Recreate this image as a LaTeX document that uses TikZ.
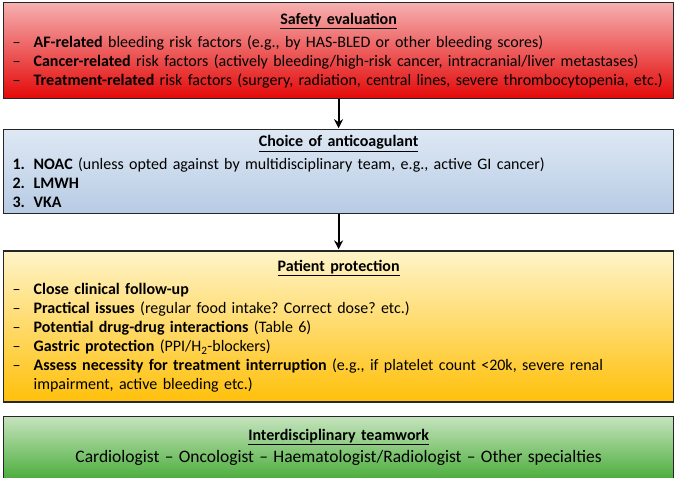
\documentclass[tikz,border=0pt]{standalone}
\usepackage{fontspec}
\setmainfont{Carlito}
\usetikzlibrary{positioning, arrows.meta}
\definecolor{safetytop}{RGB}{246,176,176}
\definecolor{safetybot}{RGB}{228,8,8}
\definecolor{choicetop}{RGB}{222,232,244}
\definecolor{choicebot}{RGB}{183,203,228}
\definecolor{protecttop}{RGB}{255,244,200}
\definecolor{protectbot}{RGB}{255,192,10}
\definecolor{teamtop}{RGB}{198,228,190}
\definecolor{teambot}{RGB}{78,174,62}
\newcommand{\dashitem}[2]{\makebox[21pt][l]{--}\textbf{#1}#2}
\newcommand{\numitem}[2]{\makebox[21pt][l]{\textbf{#1}}#2}
\newcommand{\boxtitle}[1]{\makebox[\linewidth][c]{\textbf{\underline{#1}}}}
\frenchspacing

\begin{document}
\begin{tikzpicture}[>={Stealth[length=9pt,width=9pt]}]
\tikzset{
    panel/.style={
        rectangle, draw=black!85, line width=1.2pt, minimum width=670pt, text width=652pt,
        inner xsep=9pt, inner ysep=4pt, align=left, font=\fontsize{16}{19}\selectfont
    },
    arrow/.style={
        line width=2pt, ->, shorten >=1pt
    }
}

\useasboundingbox (0,0) rectangle (677pt,-477pt);

% Boxes
\node[panel, anchor=north west, minimum height=96pt, top color=safetytop, bottom color=safetybot] (safety) at (3pt,-2pt) {
    \boxtitle{Safety evaluation}\\[4pt]
    \dashitem{AF-related}{ bleeding risk factors (e.g., by HAS-BLED or other bleeding scores)}\\
    \dashitem{Cancer-related}{ risk factors (actively bleeding/high-risk cancer, intracranial/liver metastases)}\\
    \dashitem{Treatment-related}{ risk factors (surgery, radiation, central lines, severe thrombocytopenia, etc.)}
};
\node[panel, minimum height=84pt, top color=choicetop, bottom color=choicebot, below=30pt of safety] (choice) {
    \boxtitle{Choice of anticoagulant}\\[4pt]
    \numitem{1.}{\textbf{NOAC} (unless opted against by multidisciplinary team, e.g., active GI cancer)}\\
    \numitem{2.}{\textbf{LMWH}}\\
    \numitem{3.}{\textbf{VKA}}
};
\node[panel, minimum height=151pt, top color=protecttop, bottom color=protectbot, below=36pt of choice] (protect) {
    \boxtitle{Patient protection}\\[4pt]
    \dashitem{Close clinical follow-up}{}\\
    \dashitem{Practical issues}{ (regular food intake? Correct dose? etc.)}\\
    \dashitem{Potential drug-drug interactions}{ (Table 6)}\\
    \dashitem{Gastric protection}{ (PPI/H\textsubscript{2}-blockers)}\\
    \dashitem{Assess necessity for treatment interruption}{ (e.g., if platelet count <20k, severe renal}\\
    \hspace*{21pt}impairment, active bleeding etc.)
};
\node[panel, minimum height=62pt, align=center, top color=teamtop, bottom color=teambot, below=13pt of protect] (team) {
    \textbf{\underline{Interdisciplinary teamwork}}\\[3pt]
    {\fontsize{17.5}{20}\selectfont Cardiologist -- Oncologist -- Haematologist/Radiologist -- Other specialties}
};

% Connectors
\draw[arrow] (safety) -- (choice);
\draw[arrow] (choice) -- (protect);

\end{tikzpicture}
\end{document}
